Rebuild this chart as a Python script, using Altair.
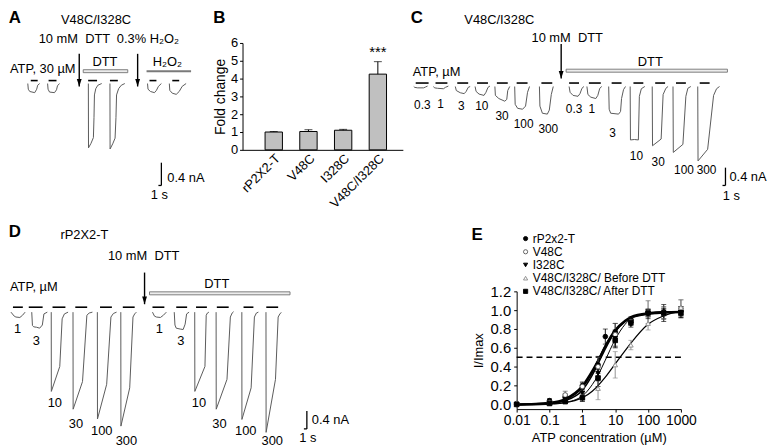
import altair as alt
import pandas as pd

FONT = "Liberation Sans"

# ======================= Panel A  (t in s, I in nA) =======================
A_TRACES_T = [
    [6.0, 6.17, 6.67, 8.33, 9.0, 9.33, 10.0],
    [12.67, 12.83, 13.33, 15.0, 15.67, 16.0, 16.67],
    [26.4, 26.45, 27.3, 28.1, 28.3, 28.45, 28.9, 29.6, 30.9],
    [33.67, 33.72, 34.6, 35.4, 35.7, 35.9, 36.6, 37.5, 38.67],
    [46.33, 46.5, 47.33, 48.67, 49.33, 50.0, 51.0],
    [53.67, 53.83, 54.67, 56.0, 57.0, 58.0, 59.33],
]
A_TRACES_I = [
    [0, -0.10, -0.14, -0.16, -0.10, -0.03, 0],
    [0, -0.10, -0.15, -0.16, -0.11, -0.04, 0],
    [0, -1.13, -1.05, -0.95, -0.60, -0.20, -0.09, -0.03, 0],
    [0, -1.15, -1.06, -0.96, -0.60, -0.20, -0.09, -0.03, 0],
    [0, -0.10, -0.14, -0.16, -0.12, -0.05, 0],
    [0, -0.12, -0.17, -0.19, -0.14, -0.05, 0],
]
A_ATP_ON = [7.0, 13.0, 26.33, 33.67, 47.0, 54.67]
A_ATP_OFF = [9.33, 15.67, 29.33, 36.33, 49.33, 57.0]
A_ATP_LEVEL = 0.052
A_TEXT_LEFT = [("10 mM\u00a0 DTT", 9.67, 0.783), ("0.3% H\u2082O\u2082", 36.0, 0.783),
               ("ATP, 30 \u00b5M", 0.0, 0.261), ("0.4 nA", 53.0, -1.652)]
A_TEXT_CENTER = [("V48C/I328C", 29.0, 1.113), ("DTT", 32.0, 0.383),
                 ("H\u2082O\u2082", 53.0, 0.383), ("1 s", 50.33, -1.965)]
A_LETTER = [("A", 1.67, 1.148)]
A_ARROW_T = [23.33, 43.0]
A_ARROW_TOP = [0.522, 0.522]
A_ARROW_TIP = [-0.052, -0.052]
A_HOLLOW = [(24.67, 39.67, 0.191, 0.243)]
A_SOLID = [(46.0, 61.0, 0.200, 0.235)]
A_SCALEBAR = (50.0, 51.0, -1.391, -1.791)

# ======================= Panel C =======================
C_TRACES_T = [
    [3.67, 4.0, 5.0, 7.0, 7.67, 8.33],
    [10.33, 10.67, 11.67, 13.67, 14.33, 15.33],
    [17.67, 18.0, 19.33, 20.67, 21.33, 22.0, 22.67],
    [24.33, 24.67, 25.67, 27.33, 28.0, 28.67, 29.33],
    [31.0, 31.17, 32.33, 34.33, 35.0, 35.33, 36.0],
    [37.67, 37.83, 38.67, 40.33, 41.33, 42.0, 42.67],
    [46.0, 46.17, 47.0, 48.67, 49.33, 50.0, 50.67],
    [56.0, 56.33, 57.33, 59.0, 59.67, 60.33, 61.0],
    [62.0, 62.33, 63.33, 65.0, 65.67, 66.33, 67.0],
    [69.33, 69.5, 70.0, 72.67, 73.33, 73.67, 74.33, 75.0],
    [76.57, 76.67, 78.0, 79.33, 79.67, 80.33, 81.5],
    [84.0, 84.1, 87.0, 87.67, 88.6, 89.33],
    [91.0, 91.1, 94.33, 95.33, 96.0, 97.0],
    [99.33, 99.43, 102.67, 104.67, 105.67, 106.67],
]
C_TRACES_I = [
    [0, -0.02, -0.03, -0.03, -0.01, 0.01],
    [0, -0.03, -0.04, -0.05, -0.02, 0.01],
    [0, -0.09, -0.14, -0.16, -0.11, -0.02, 0],
    [0, -0.11, -0.17, -0.20, -0.13, -0.02, 0.01],
    [0, -0.20, -0.27, -0.33, -0.29, -0.09, 0],
    [0, -0.40, -0.49, -0.51, -0.44, -0.13, 0],
    [0, -0.44, -0.60, -0.62, -0.53, -0.18, 0],
    [0, -0.13, -0.20, -0.22, -0.16, -0.04, 0],
    [0, -0.18, -0.24, -0.27, -0.20, -0.04, 0],
    [0, -0.51, -0.60, -0.62, -0.56, -0.27, -0.07, 0],
    [0, -1.20, -1.19, -1.20, -0.22, -0.05, 0],
    [0, -1.33, -1.18, -0.18, -0.04, 0],
    [0, -1.48, -1.30, -0.22, -0.04, 0],
    [0, -1.67, -1.41, -0.20, -0.05, 0],
]
C_ATP_ON = [4.33, 11.0, 18.33, 25.0, 31.67, 38.33, 46.67, 56.0, 62.67, 70.33, 77.67, 85.0, 92.0, 100.0]
C_ATP_OFF = [8.67, 15.0, 22.0, 28.67, 35.33, 42.0, 50.33, 59.33, 66.67, 73.67, 81.0, 88.33, 95.33, 103.33]
C_ATP_LEVEL = 0.078
C_DOSE_LABELS = [("0.3", 6.57, -0.41), ("1", 12.67, -0.40), ("3", 19.67, -0.44), ("10", 26.57, -0.44),
                 ("30", 33.43, -0.67), ("100", 40.67, -0.84), ("300", 49.0, -0.96),
                 ("0.3", 57.67, -0.51), ("1", 63.67, -0.51), ("3", 70.67, -1.04), ("10", 78.67, -1.56),
                 ("30", 86.0, -1.69), ("100", 94.7, -1.87), ("300", 102.3, -1.87)]
C_TEXT_LEFT = [("10 mM\u00a0 DTT", 43.33, 1.089), ("ATP, \u00b5M", 3.33, 0.333), ("0.4 nA", 110.0, -2.044)]
C_TEXT_CENTER = [("V48C/I328C", 32.5, 1.489), ("DTT", 83.33, 0.556), ("1 s", 110.67, -2.46)]
C_LETTER = [("C", 4.67, 1.533)]
C_ARROW_T = [53.33]
C_ARROW_TOP = [0.956]
C_ARROW_TIP = [0.178]
C_HOLLOW = [(55.0, 109.33, 0.322, 0.389)]
C_SOLID = []
C_SCALEBAR = (107.67, 108.67, -1.822, -2.222)

# ======================= Panel D =======================
D_TRACES_T = [
    [0.33, 1.43, 2.0, 3.33, 4.23, 5.1],
    [7.33, 7.57, 8.0, 9.0, 10.0, 10.9, 11.43, 12.57],
    [13.9, 13.93, 16.77, 17.57, 18.33, 19.57],
    [21.23, 21.27, 24.43, 25.9, 26.67, 27.77],
    [29.43, 29.47, 32.57, 34.0, 34.83, 35.9],
    [37.33, 37.37, 40.33, 41.43, 42.0, 42.57],
    [48.0, 48.67, 49.33, 50.67, 51.67, 52.67],
    [55.33, 55.57, 56.0, 57.33, 58.33, 59.0, 59.5, 60.33],
    [62.23, 62.27, 65.67, 66.1, 66.5, 67.0],
    [69.43, 69.47, 73.1, 74.23, 74.83, 75.33],
    [78.1, 78.13, 81.23, 82.33, 83.0, 83.67],
    [86.23, 86.27, 89.43, 90.33, 91.0, 91.43],
]
D_TRACES_I = [
    [0, -0.09, -0.11, -0.12, -0.07, 0],
    [0, -0.30, -0.33, -0.34, -0.36, -0.29, -0.04, 0],
    [0, -1.78, -1.22, -0.15, -0.04, 0],
    [0, -2.18, -1.56, -0.07, -0.02, 0],
    [0, -2.40, -1.62, -0.11, -0.03, 0],
    [0, -2.56, -1.70, -0.11, -0.04, 0],
    [0, -0.09, -0.11, -0.12, -0.07, 0],
    [0, -0.29, -0.36, -0.38, -0.39, -0.27, -0.04, 0],
    [0, -1.78, -1.22, -0.07, -0.02, 0],
    [0, -2.18, -1.51, -0.11, -0.02, 0.01],
    [0, -2.41, -1.70, -0.11, -0.02, 0],
    [0, -2.70, -1.51, -0.11, -0.03, -0.01],
]
D_ATP_ON = [1.0, 6.33, 14.33, 22.0, 30.33, 38.0, 48.0, 56.0, 62.67, 69.67, 78.67, 86.33]
D_ATP_OFF = [4.33, 11.0, 18.67, 26.0, 34.33, 42.0, 52.0, 59.67, 66.33, 73.67, 82.0, 90.33]
D_ATP_LEVEL = 0.111
D_DOSE_LABELS = [("1", 2.57, -0.37), ("3", 8.9, -0.65), ("10", 15.1, -2.04), ("30", 22.23, -2.52),
                 ("100", 30.9, -2.67), ("300", 39.23, -2.89),
                 ("1", 50.33, -0.37), ("3", 57.57, -0.65), ("10", 63.67, -2.04), ("30", 70.57, -2.52),
                 ("100", 79.43, -2.67), ("300", 88.33, -2.89)]
D_TEXT_LEFT = [("rP2X2-T", 17.0, 1.733), ("10 mM\u00a0 DTT", 33.0, 1.267), ("ATP, \u00b5M", 0.0, 0.556),
               ("0.4 nA", 101.67, -2.422)]
D_TEXT_CENTER = [("DTT", 69.67, 0.622), ("1 s", 100.33, -2.822)]
D_LETTER = [("D", 1.67, 1.8)]
D_ARROW_T = [45.33]
D_ARROW_TOP = [0.889]
D_ARROW_TIP = [0.178]
D_HOLLOW = [(47.0, 94.33, 0.389, 0.456)]
D_SOLID = []
D_SCALEBAR = (99.0, 100.0, -2.222, -2.622)

# ======================= Panel B =======================
B_CATS = ["rP2X2-T", "V48C", "I328C", "V48C/I328C"]
B_VALS = [1.0, 1.03, 1.1, 4.25]
B_SEM = [0.03, 0.10, 0.05, 0.70]
B_LETTER_Y = 7.39

# ======================= Panel E =======================
E_SERIES = ["rP2x2-T", "V48C", "I328C", "V48C/I328C/ Before DTT", "V48C/I328C/ After DTT"]
E_X = [0.01, 0.1, 0.3, 1, 3, 10, 30, 100, 300, 1000]
E_X_WT = [0.01, 0.1, 0.3, 1, 3, 5, 10, 30, 100, 300, 1000]
E_WT = [0.00, 0.04, 0.08, 0.20, 0.42, 0.72, 0.77, 0.90, 0.97, 0.98, 0.99]
E_WT_SEM = [0.01, 0.02, 0.03, 0.03, 0.09, 0.08, 0.09, 0.03, 0.04, 0.04, 0.05]
E_V48C = [0.01, 0.02, 0.10, 0.19, 0.40, 0.74, 0.88, 0.98, 0.97, 1.02]
E_V48C_SEM = [0.01, 0.01, 0.04, 0.05, 0.10, 0.12, 0.04, 0.12, 0.07, 0.09]
E_I328C = [0.00, 0.01, 0.05, 0.12, 0.33, 0.70, 0.85, 0.96, 0.96, 0.98]
E_I328C_SEM = [0.01, 0.01, 0.03, 0.04, 0.08, 0.09, 0.03, 0.05, 0.05, 0.06]
E_BEFORE = [0.00, 0.01, 0.03, 0.08, 0.17, 0.42, 0.63, 0.86, 0.97, 1.03]
E_BEFORE_SEM = [0.01, 0.01, 0.02, 0.05, 0.12, 0.14, 0.05, 0.07, 0.06, 0.08]
E_AFTER = [0.00, 0.01, 0.03, 0.07, 0.28, 0.68, 0.87, 0.97, 0.97, 0.97]
E_AFTER_SEM = [0.01, 0.01, 0.02, 0.04, 0.09, 0.08, 0.03, 0.04, 0.09, 0.05]

E_FIT_X = [0.01, 0.1, 0.3, 1, 2, 3, 5, 10, 20, 30, 100, 300, 1000]
E_FIT_WT = [0.00, 0.01, 0.05, 0.18, 0.34, 0.46, 0.62, 0.79, 0.89, 0.93, 0.97, 0.98, 0.98]
E_FIT_V48C = [0.00, 0.02, 0.06, 0.20, 0.36, 0.47, 0.62, 0.78, 0.88, 0.92, 0.96, 0.98, 0.985]
E_FIT_I328C = [0.00, 0.01, 0.04, 0.15, 0.31, 0.43, 0.59, 0.77, 0.88, 0.92, 0.96, 0.97, 0.975]
E_FIT_BEFORE = [0.00, 0.01, 0.02, 0.07, 0.14, 0.20, 0.29, 0.43, 0.57, 0.65, 0.85, 0.94, 0.99]
E_FIT_AFTER = [-0.01, 0.00, 0.02, 0.09, 0.21, 0.31, 0.47, 0.69, 0.85, 0.91, 0.97, 0.98, 0.98]
E_HALF = [0.5]

E_SHAPES = ["circle", "circle", "triangle-down", "triangle-up", "square"]
E_FILLS = ["black", "white", "black", "white", "black"]
E_STROKES = ["black", "#555555", "black", "#888888", "black"]
E_WIDTHS = [2.0, 1.0, 1.0, 1.0, 2.0]

# legend / letter placement (in the E panel's own axis units)
E_LEG_SYMBOL_X = 0.0187
E_LEG_TEXT_X = 0.031
E_LEG_ROW_Y = [1.76, 1.62, 1.48, 1.34, 1.2]
E_LETTER_POS = (0.01, 1.8)

ARROW_HEAD = "M-0.7,-2.2L0.7,-2.2L0,0Z"
TRACE_COLOR = "#5a5a5a"


def trace_panel(width, height, xdom, ydom, traces_t, traces_i, atp_on, atp_off, atp_level,
                dose_labels, dose_size, text_left, text_center, letter, arrow_t, arrow_top, arrow_tip,
                hollow, solid, scalebar):
    xs = alt.Scale(domain=xdom, nice=False, zero=False)
    ys = alt.Scale(domain=ydom, nice=False, zero=False)

    def X(f):
        return alt.X(f, type="quantitative", scale=xs, axis=None)

    def Y(f):
        return alt.Y(f, type="quantitative", scale=ys, axis=None)

    rows = []
    for n, (ts, cs) in enumerate(zip(traces_t, traces_i)):
        for k, (t, c) in enumerate(zip(ts, cs)):
            rows.append({"id": n, "k": k, "t": t, "I": c})
    tr = pd.DataFrame(rows)
    layers = [
        alt.Chart(tr).mark_line(color=TRACE_COLOR, strokeWidth=1).encode(
            x=X("t"), y=Y("I"), detail="id:N", order="k:Q")
    ]
    dash = pd.DataFrame({"t0": atp_on, "t1": atp_off, "I": [atp_level] * len(atp_on)})
    layers.append(alt.Chart(dash).mark_rule(color="black", strokeWidth=1.6).encode(
        x=X("t0"), x2="t1", y=Y("I")))

    def text_layer(items, align, size=13, weight="normal"):
        df = pd.DataFrame(items, columns=["txt", "t", "I"])
        return alt.Chart(df).mark_text(font=FONT, fontSize=size, fontWeight=weight, align=align,
                                       baseline="middle", color="black").encode(
            x=X("t"), y=Y("I"), text="txt:N")

    if dose_labels:
        layers.append(text_layer(dose_labels, "center", size=dose_size))
    layers.append(text_layer(text_left, "left"))
    layers.append(text_layer(text_center, "center"))
    layers.append(text_layer(letter, "center", size=17, weight="bold"))

    arr = pd.DataFrame({"t": arrow_t, "top": arrow_top, "tip": arrow_tip})
    layers.append(alt.Chart(arr).mark_rule(color="black", strokeWidth=1.4).encode(
        x=X("t"), y=Y("top"), y2="tip"))
    layers.append(alt.Chart(arr).mark_point(shape=ARROW_HEAD, filled=True, size=49, color="black",
                                            opacity=1).encode(x=X("t"), y=Y("tip")))
    if hollow:
        hb = pd.DataFrame(hollow, columns=["t0", "t1", "I0", "I1"])
        layers.append(alt.Chart(hb).mark_rect(fill="#ececec", stroke="#707070", strokeWidth=0.9).encode(
            x=X("t0"), x2="t1", y=Y("I0"), y2="I1"))
    if solid:
        sb = pd.DataFrame(solid, columns=["t0", "t1", "I0", "I1"])
        layers.append(alt.Chart(sb).mark_rect(fill="#7a7a7a").encode(
            x=X("t0"), x2="t1", y=Y("I0"), y2="I1"))
    t0, t1, i0, i1 = scalebar
    sv = pd.DataFrame({"t": [t1], "I0": [i0], "I1": [i1]})
    sh = pd.DataFrame({"t0": [t0], "t1": [t1], "I": [i1]})
    layers.append(alt.Chart(sv).mark_rule(color="black", strokeWidth=1.3).encode(
        x=X("t"), y=Y("I0"), y2="I1"))
    layers.append(alt.Chart(sh).mark_rule(color="black", strokeWidth=1.3).encode(
        x=X("t0"), x2="t1", y=Y("I")))
    return alt.layer(*layers).properties(width=width, height=height)


# ---------- geometry ----------
ROW1_H = 108
ROW2_H = 119
A_W = 205
C_W = 370
D_W = 466

panel_a = trace_panel(A_W, ROW1_H, [0, A_W / 3], [-1.165, 0.713], A_TRACES_T, A_TRACES_I,
                      A_ATP_ON, A_ATP_OFF, A_ATP_LEVEL, [], 13, A_TEXT_LEFT, A_TEXT_CENTER, A_LETTER,
                      A_ARROW_T, A_ARROW_TOP, A_ARROW_TIP, A_HOLLOW, A_SOLID, A_SCALEBAR)
panel_c = trace_panel(C_W, ROW1_H, [0, C_W / 3], [-1.422, 0.978], C_TRACES_T, C_TRACES_I,
                      C_ATP_ON, C_ATP_OFF, C_ATP_LEVEL, C_DOSE_LABELS, 12, C_TEXT_LEFT, C_TEXT_CENTER,
                      C_LETTER, C_ARROW_T, C_ARROW_TOP, C_ARROW_TIP, C_HOLLOW, C_SOLID, C_SCALEBAR)
panel_d = trace_panel(D_W, ROW2_H, [0, D_W / 3], [-2.178, 0.467], D_TRACES_T, D_TRACES_I,
                      D_ATP_ON, D_ATP_OFF, D_ATP_LEVEL, D_DOSE_LABELS, 13, D_TEXT_LEFT, D_TEXT_CENTER,
                      D_LETTER, D_ARROW_T, D_ARROW_TOP, D_ARROW_TIP, D_HOLLOW, D_SOLID, D_SCALEBAR)

# ---------- Panel B ----------
b_df = pd.DataFrame({"cat": B_CATS, "val": B_VALS, "top": [v + e for v, e in zip(B_VALS, B_SEM)]})
b_scale_x = alt.Scale(domain=B_CATS, paddingInner=0.5, paddingOuter=0.56, align=0.58)
b_scale_y = alt.Scale(domain=[0, 6], nice=False)
b_axis_x = alt.Axis(title=None, labelAngle=-45, labelAlign="right", labelBaseline="top",
                    labelFont=FONT, labelFontSize=13, labelColor="black", ticks=False,
                    domainColor="black", labelPadding=2, labelOverlap=False)
b_axis_y = alt.Axis(values=[0, 1, 2, 3, 4, 5, 6], title="Fold change", titleFont=FONT,
                    titleFontSize=14, titleFontWeight="normal", titleColor="black",
                    labelFont=FONT, labelFontSize=13, labelColor="black", grid=False,
                    tickSize=3, tickColor="black", domainColor="black", labelPadding=2,
                    titlePadding=3, labelOverlap=False, labelFlush=False)


def BX():
    return alt.X("cat:N", scale=b_scale_x, axis=b_axis_x)


def BY(f):
    return alt.Y(f, type="quantitative", scale=b_scale_y, axis=b_axis_y)


b_bars = alt.Chart(b_df).mark_bar(fill="#c0c0c0", stroke="black", strokeWidth=1).encode(x=BX(), y=BY("val"))
b_err = alt.Chart(b_df).mark_rule(color="black", strokeWidth=1).encode(x=BX(), y=BY("val"), y2="top")
b_cap = alt.Chart(b_df).mark_tick(color="black", thickness=1, size=8).encode(x=BX(), y=BY("top"))
b_star = alt.Chart(b_df).transform_filter(alt.datum.cat == "V48C/I328C").mark_text(
    font=FONT, fontSize=15, color="black", baseline="middle", dy=-10).encode(
    x=BX(), y=BY("top"), text=alt.value("***"))
b_let_df = pd.DataFrame({"cat": [B_CATS[0]], "ly": [B_LETTER_Y], "txt": ["B"]})
b_letter = alt.Chart(b_let_df).mark_text(
    font=FONT, fontSize=17, fontWeight="bold", color="black", baseline="middle", dx=-55).encode(
    x=BX(), y=BY("ly"), text="txt:N")
panel_b = alt.layer(b_bars, b_err, b_cap, b_star, b_letter).properties(width=162, height=ROW1_H)

# ---------- Panel E ----------
pts = []
series_data = [
    (E_X_WT, E_WT, E_WT_SEM), (E_X, E_V48C, E_V48C_SEM), (E_X, E_I328C, E_I328C_SEM),
    (E_X, E_BEFORE, E_BEFORE_SEM), (E_X, E_AFTER, E_AFTER_SEM)]
for name, (xs_, ys_, es_) in zip(E_SERIES, series_data):
    for x_, y_, e_ in zip(xs_, ys_, es_):
        pts.append({"series": name, "conc": x_, "y": y_, "lo": y_ - e_, "hi": y_ + e_})
e_pts = pd.DataFrame(pts)
fits = []
for name, fy in zip(E_SERIES, [E_FIT_WT, E_FIT_V48C, E_FIT_I328C, E_FIT_BEFORE, E_FIT_AFTER]):
    for k, (x_, y_) in enumerate(zip(E_FIT_X, fy)):
        fits.append({"series": name, "k": k, "conc": x_, "y": y_})
e_fit = pd.DataFrame(fits)
e_leg = pd.DataFrame({"series": E_SERIES, "sx": [E_LEG_SYMBOL_X] * 5, "tx": [E_LEG_TEXT_X] * 5,
                      "ly": E_LEG_ROW_Y})
e_half_df = pd.DataFrame({"y": E_HALF})
e_let_df = pd.DataFrame({"conc": [E_LETTER_POS[0]], "ly": [E_LETTER_POS[1]], "txt": ["E"]})

e_xs = alt.Scale(type="log", domain=[0.01, 1000], nice=False)
e_ys = alt.Scale(domain=[-0.05, 1.2], nice=False, zero=False)
e_xaxis = alt.Axis(values=[0.01, 0.1, 1, 10, 100, 1000], format="~g", title="ATP concentration (\u00b5M)",
                   titleFont=FONT, titleFontSize=13, titleFontWeight="normal", titleColor="black",
                   labelFont=FONT, labelFontSize=14, labelColor="black", grid=False, tickSize=3,
                   tickColor="black", domainColor="black", labelFlush=False, labelOverlap=False,
                   labelPadding=2, titlePadding=4)
e_yaxis = alt.Axis(values=[0, 0.2, 0.4, 0.6, 0.8, 1.0, 1.2], format=".1f", title="I/Imax",
                   titleFont=FONT, titleFontSize=13, titleFontWeight="normal", titleColor="black",
                   labelFont=FONT, labelFontSize=15, labelColor="black", grid=False, tickSize=3,
                   tickColor="black", domainColor="black", labelPadding=3, titlePadding=5,
                   labelOverlap=False, labelFlush=False)


def EX(f):
    return alt.X(f, type="quantitative", scale=e_xs, axis=e_xaxis)


def EY(f):
    return alt.Y(f, type="quantitative", scale=e_ys, axis=e_yaxis)


shape_enc = alt.Shape("series:N", scale=alt.Scale(domain=E_SERIES, range=E_SHAPES), legend=None)
fill_enc = alt.Fill("series:N", scale=alt.Scale(domain=E_SERIES, range=E_FILLS), legend=None)
stroke_enc = alt.Stroke("series:N", scale=alt.Scale(domain=E_SERIES, range=E_STROKES), legend=None)
color_enc = alt.Color("series:N", scale=alt.Scale(domain=E_SERIES, range=E_STROKES), legend=None)

e_half = alt.Chart(e_half_df).mark_rule(color="black", strokeWidth=1.5, strokeDash=[6, 4]).encode(
    y=EY("y"))
e_lines = alt.Chart(e_fit).mark_line(interpolate="monotone", color="black").encode(
    x=EX("conc"), y=EY("y"), detail="series:N", order="k:Q",
    strokeWidth=alt.StrokeWidth("series:N", scale=alt.Scale(domain=E_SERIES, range=E_WIDTHS), legend=None))
e_err = alt.Chart(e_pts).mark_rule(strokeWidth=0.9).encode(
    x=EX("conc"), y=EY("lo"), y2="hi", color=color_enc)
e_cap_lo = alt.Chart(e_pts).mark_tick(thickness=0.9, size=5, orient="horizontal").encode(
    x=EX("conc"), y=EY("lo"), color=color_enc)
e_cap_hi = alt.Chart(e_pts).mark_tick(thickness=0.9, size=5, orient="horizontal").encode(
    x=EX("conc"), y=EY("hi"), color=color_enc)
e_points = alt.Chart(e_pts).mark_point(size=22, strokeWidth=0.9, opacity=1).encode(
    x=EX("conc"), y=EY("y"), shape=shape_enc, fill=fill_enc, stroke=stroke_enc)
e_leg_sym = alt.Chart(e_leg).mark_point(size=18, strokeWidth=0.9, opacity=1).encode(
    x=EX("sx"), y=EY("ly"), shape=shape_enc, fill=fill_enc, stroke=stroke_enc)
e_leg_txt = alt.Chart(e_leg).mark_text(font=FONT, fontSize=12, align="left", baseline="middle",
                                       color="black").encode(x=EX("tx"), y=EY("ly"), text="series:N")
e_letter = alt.Chart(e_let_df).mark_text(
    font=FONT, fontSize=17, fontWeight="bold", color="black", baseline="middle", dx=-40).encode(
    x=EX("conc"), y=EY("ly"), text="txt:N")
panel_e = alt.layer(e_half, e_lines, e_err, e_cap_lo, e_cap_hi, e_points, e_leg_sym, e_leg_txt,
                    e_letter).properties(width=166, height=ROW2_H)

row1 = alt.hconcat(panel_a, panel_b, panel_c, spacing=0)
row2 = alt.hconcat(panel_d, panel_e, spacing=0)
chart = alt.vconcat(row1, row2, spacing=12).properties(
    padding={"left": 0, "top": -2, "right": 0, "bottom": 0}
).configure_view(stroke=None).configure_axis(labelOverlap=False)

chart.save("out.html", embed_options={"renderer": "svg", "actions": False})
